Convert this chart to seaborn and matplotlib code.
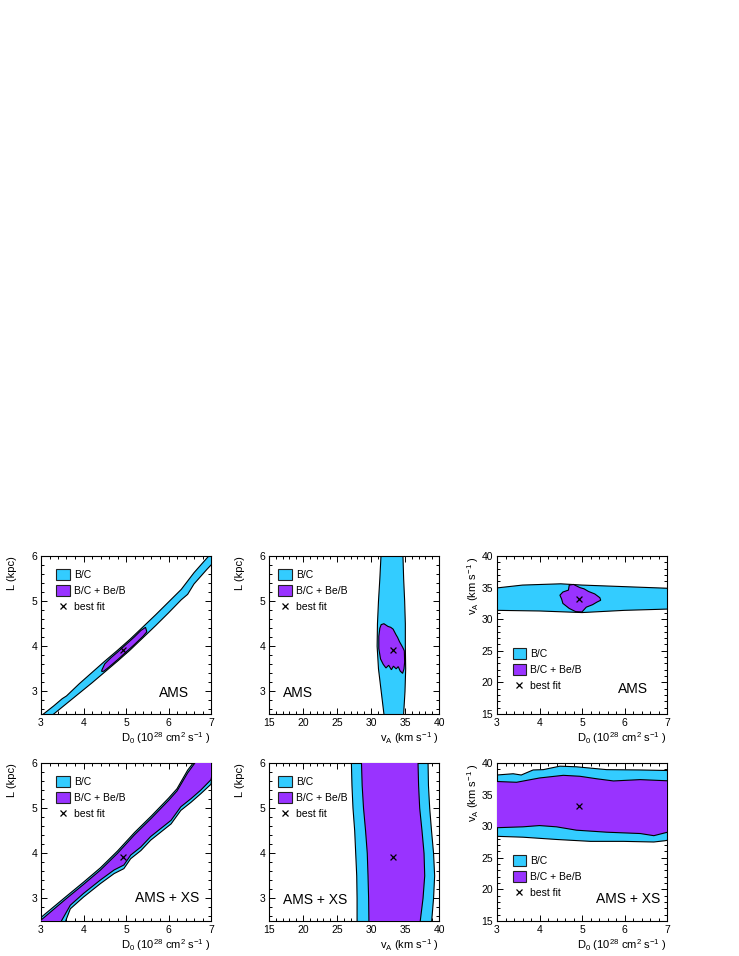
import numpy as np
import matplotlib
matplotlib.use("Agg")
import matplotlib.pyplot as plt
import seaborn as sns
from matplotlib.patches import Patch
from matplotlib.lines import Line2D
from matplotlib.ticker import MultipleLocator

# ---------------- data ----------------
BEST_D0 = 4.92
BEST_L = 3.92
BEST_VA = 33.2

# Panel 1: AMS, D0 vs L
ams_d0L_bc_d0 = [2.95, 3.30, 3.50, 3.60, 3.90, 4.20, 4.50, 4.80, 5.10, 5.40, 5.70, 6.00, 6.30, 6.60, 6.90, 7.10,
                 7.10, 7.00, 6.90, 6.60, 6.45, 6.30, 6.00, 5.70, 5.40, 5.10, 4.80, 4.50, 4.20, 3.90, 3.60, 3.30, 3.00]
ams_d0L_bc_L = [2.42, 2.68, 2.84, 2.90, 3.17, 3.42, 3.67, 3.91, 4.16, 4.43, 4.70, 4.98, 5.26, 5.63, 5.95, 6.15,
                5.90, 5.80, 5.70, 5.38, 5.15, 5.03, 4.74, 4.46, 4.19, 3.92, 3.67, 3.43, 3.19, 2.96, 2.73, 2.50, 2.28]
ams_d0L_be_d0 = [4.43, 4.50, 4.65, 4.80, 5.00, 5.20, 5.35, 5.46, 5.49, 5.40, 5.20, 5.00, 4.80, 4.60, 4.48, 4.43]
ams_d0L_be_L = [3.47, 3.61, 3.75, 3.87, 4.04, 4.21, 4.35, 4.42, 4.32, 4.22, 4.04, 3.87, 3.70, 3.54, 3.45, 3.44]

# Panel 2: AMS, vA vs L
ams_vaL_bc_va = [31.5, 31.3, 31.1, 30.95, 30.9, 31.1, 31.5, 31.9, 31.95,
                 34.8, 34.8, 35.0, 35.1, 35.05, 35.05, 34.95, 34.8, 34.7, 34.7]
ams_vaL_bc_L = [6.1, 5.5, 5.0, 4.5, 4.0, 3.5, 3.0, 2.5, 2.4,
                2.4, 2.5, 3.0, 3.5, 4.0, 4.5, 5.0, 5.5, 6.0, 6.1]
ams_vaL_be_va = [31.5, 31.9, 32.5, 32.9, 33.25, 33.7, 33.9, 34.2, 34.65, 34.9, 34.95, 34.85, 34.65, 34.3, 34.0,
                 33.7, 33.3, 33.0, 32.6, 32.2, 31.8, 31.4, 31.15, 31.15, 31.3]
ams_vaL_be_L = [4.48, 4.50, 4.44, 4.42, 4.38, 4.25, 4.20, 4.10, 3.98, 3.90, 3.65, 3.50, 3.40, 3.45, 3.55,
                3.50, 3.56, 3.48, 3.58, 3.52, 3.60, 3.72, 3.95, 4.22, 4.40]

# Panel 3: AMS, D0 vs vA
ams_d0va_bc_d0 = [2.90, 3.00, 3.60, 4.50, 5.00, 6.00, 7.00, 7.10, 7.10, 7.00, 6.00, 5.00, 4.00, 3.00, 2.90]
ams_d0va_bc_va = [34.9, 34.95, 35.4, 35.6, 35.4, 35.15, 34.9, 34.9, 31.6, 31.6, 31.4, 31.05, 31.3, 31.4, 31.4]
ams_d0va_be_d0 = [4.70, 4.80, 4.95, 5.05, 5.15, 5.30, 5.42, 5.44, 5.35, 5.25, 5.10, 5.00, 4.85, 4.70, 4.55, 4.52, 4.48, 4.55, 4.68]
ams_d0va_be_va = [35.4, 35.5, 35.0, 34.8, 34.4, 34.0, 33.4, 33.0, 32.7, 32.3, 31.9, 31.15, 31.2, 31.7, 32.5, 33.2, 33.8, 34.3, 34.6]

# Panel 4: AMS + XS, D0 vs L
xs_d0L_bc_d0 = [2.90, 3.00, 3.60, 4.00, 4.40, 4.80, 5.20, 5.60, 6.00, 6.20, 6.45, 6.58, 6.70,
                7.10, 7.00, 6.76, 6.53, 6.29, 6.06, 5.82, 5.58, 5.35, 5.11, 4.95, 4.72, 4.40, 4.00, 3.69, 3.58, 3.55]
xs_d0L_bc_L = [2.48, 2.58, 3.05, 3.36, 3.68, 4.05, 4.46, 4.83, 5.22, 5.43, 5.84, 6.00, 6.10,
               6.10, 5.53, 5.32, 5.13, 4.95, 4.65, 4.47, 4.29, 4.06, 3.88, 3.66, 3.55, 3.33, 3.03, 2.77, 2.50, 2.40]
xs_d0L_be_d0 = [2.95, 3.00, 3.60, 4.00, 4.40, 4.80, 5.20, 5.60, 6.00, 6.20, 6.45, 6.62, 6.70,
                7.10, 7.00, 6.76, 6.53, 6.29, 6.06, 5.82, 5.58, 5.35, 5.11, 4.95, 4.72, 4.40, 4.00, 3.69, 3.48, 3.45]
xs_d0L_be_L = [2.45, 2.52, 3.00, 3.31, 3.63, 4.00, 4.41, 4.78, 5.17, 5.38, 5.78, 6.00, 6.10,
               6.10, 5.63, 5.40, 5.21, 5.03, 4.73, 4.55, 4.37, 4.14, 3.96, 3.74, 3.63, 3.41, 3.11, 2.85, 2.50, 2.40]

# Panel 5: AMS + XS, vA vs L
xs_vaL_bc_va = [27.1, 27.2, 27.35, 27.6, 27.75, 27.9, 27.95, 27.95, 38.87, 39.2, 39.36, 39.2, 38.9, 38.63, 38.45, 38.38]
xs_vaL_bc_L = [6.1, 5.5, 5.0, 4.5, 4.0, 3.5, 3.0, 2.4, 2.4, 3.0, 3.5, 4.0, 4.5, 5.0, 5.5, 6.1]
xs_vaL_be_va = [28.58, 28.7, 28.9, 29.2, 29.45, 29.56, 29.65, 29.7, 37.16, 37.65, 37.9, 37.8, 37.5, 37.16, 37.0, 36.9]
xs_vaL_be_L = [6.1, 5.5, 5.0, 4.5, 4.0, 3.5, 3.0, 2.4, 2.4, 3.0, 3.5, 4.0, 4.5, 5.0, 5.5, 6.1]

# Panel 6: AMS + XS, D0 vs vA
xs_d0va_bc_d0 = [2.90, 3.38, 3.57, 3.85, 4.09, 4.48, 4.87, 5.58, 6.37, 7.10,
                 7.10, 6.95, 6.69, 5.98, 5.20, 4.40, 3.61, 2.90]
xs_d0va_bc_va = [38.05, 38.3, 38.1, 38.9, 38.95, 39.5, 39.4, 38.95, 38.9, 38.8,
                 27.9, 27.7, 27.5, 27.6, 27.6, 27.9, 28.26, 28.42]
xs_d0va_be_d0 = [2.90, 3.46, 4.00, 4.56, 4.95, 5.35, 5.74, 6.37, 7.10,
                 7.10, 6.69, 6.37, 5.58, 4.87, 4.40, 4.00, 3.61, 2.90]
xs_d0va_be_va = [37.1, 36.95, 37.63, 38.05, 37.9, 37.5, 37.16, 37.37, 37.16,
                 29.2, 28.5, 28.84, 29.05, 29.37, 29.9, 30.1, 29.9, 29.74]

legend_labels = ["B/C", "B/C + Be/B", "best fit"]
D0_LABEL = r"D$_{0}$ (10$^{28}$ cm$^{2}$ s$^{-1}$ )"
L_LABEL = "L (kpc)"
VA_LABEL = r"v$_{\rm A}$ (km s$^{-1}$ )"

# ---------------- style ----------------
BLUE = "#33ccff"
PURPLE = "#9933ff"

sns.set_style("ticks")
plt.rcParams['font.family'] = ['Liberation Sans', 'DejaVu Sans']
plt.rcParams['mathtext.fontset'] = 'custom'
plt.rcParams['mathtext.rm'] = 'Liberation Sans'
plt.rcParams['mathtext.it'] = 'Liberation Sans:italic'
plt.rcParams['mathtext.bf'] = 'Liberation Sans:bold'
plt.rcParams['text.color'] = 'black'
plt.rcParams['axes.labelcolor'] = 'black'
plt.rcParams['xtick.color'] = 'black'
plt.rcParams['ytick.color'] = 'black'

W, H = 739, 956
fig = plt.figure(figsize=(W / 100, H / 100), dpi=100)

lefts = [41, 269, 497]
tops = [556, 763]
AW, AH = 170, 158


def make_ax(col, row):
    l = lefts[col]
    t = tops[row]
    return fig.add_axes([l / W, 1 - (t + AH) / H, AW / W, AH / H])


def style_axis(ax, kind_x, kind_y):
    ax.tick_params(which='both', direction='in', top=True, right=True,
                   labelsize=7.5, pad=2.8, width=0.7, colors='black')
    ax.tick_params(which='major', length=4)
    ax.tick_params(which='minor', length=2)
    for s in ax.spines.values():
        s.set_linewidth(0.8)
        s.set_color('black')
    if kind_x == 'D0':
        ax.set_xlim(3, 7)
        ax.xaxis.set_major_locator(MultipleLocator(1))
        ax.xaxis.set_minor_locator(MultipleLocator(0.2))
        ax.set_xlabel(D0_LABEL, fontsize=8, loc='right')
    else:
        ax.set_xlim(15, 40)
        ax.xaxis.set_major_locator(MultipleLocator(5))
        ax.xaxis.set_minor_locator(MultipleLocator(1))
        ax.set_xlabel(VA_LABEL, fontsize=8, loc='right')
    ax.xaxis.set_label_coords(1.0, -0.105)
    if kind_y == 'L':
        ax.set_ylim(2.5, 6)
        ax.yaxis.set_major_locator(MultipleLocator(1))
        ax.yaxis.set_minor_locator(MultipleLocator(0.2))
        ax.set_ylabel(L_LABEL, fontsize=8, loc='top')
        ax.yaxis.set_label_coords(-0.14, 1.0)
    else:
        ax.set_ylim(15, 40)
        ax.yaxis.set_major_locator(MultipleLocator(5))
        ax.yaxis.set_minor_locator(MultipleLocator(1))
        ax.set_ylabel(VA_LABEL, fontsize=8, loc='top')
        ax.yaxis.set_label_coords(-0.095, 1.0)


def draw(ax, bcx, bcy, bex, bey, bx, by):
    ax.fill(bcx, bcy, facecolor=BLUE, edgecolor='black', lw=0.8, zorder=2)
    ax.fill(bex, bey, facecolor=PURPLE, edgecolor='black', lw=0.8, zorder=3)
    sns.scatterplot(x=[bx], y=[by], marker='x', color='black', s=18,
                    linewidth=0.9, ax=ax, legend=False, zorder=4)


def add_legend(ax, x, y):
    handles = [Patch(facecolor=BLUE, edgecolor='#222222', lw=0.8),
               Patch(facecolor=PURPLE, edgecolor='#222222', lw=0.8),
               Line2D([], [], marker='x', ls='none', color='black', markersize=4, mew=0.9)]
    ax.legend(handles, legend_labels, loc='upper left', bbox_to_anchor=(x, y),
              frameon=False, fontsize=7.5, handlelength=1.3, handleheight=1.25,
              handletextpad=0.4, labelspacing=0.5, borderpad=0, borderaxespad=0)


panels = [
    (0, 0, 'D0', 'L', ams_d0L_bc_d0, ams_d0L_bc_L, ams_d0L_be_d0, ams_d0L_be_L, BEST_D0, BEST_L,
     (0.089, 0.918), "AMS", (0.87, 0.108), 'right'),
    (1, 0, 'vA', 'L', ams_vaL_bc_va, ams_vaL_bc_L, ams_vaL_be_va, ams_vaL_be_L, BEST_VA, BEST_L,
     (0.053, 0.918), "AMS", (0.082, 0.108), 'left'),
    (2, 0, 'D0', 'vA', ams_d0va_bc_d0, ams_d0va_bc_va, ams_d0va_be_d0, ams_d0va_be_va, BEST_D0, BEST_VA,
     (0.092, 0.418), "AMS", (0.888, 0.133), 'right'),
    (0, 1, 'D0', 'L', xs_d0L_bc_d0, xs_d0L_bc_L, xs_d0L_be_d0, xs_d0L_be_L, BEST_D0, BEST_L,
     (0.089, 0.918), "AMS + XS", (0.93, 0.12), 'right'),
    (1, 1, 'vA', 'L', xs_vaL_bc_va, xs_vaL_bc_L, xs_vaL_be_va, xs_vaL_be_L, BEST_VA, BEST_L,
     (0.053, 0.918), "AMS + XS", (0.082, 0.107), 'left'),
    (2, 1, 'D0', 'vA', xs_d0va_bc_d0, xs_d0va_bc_va, xs_d0va_be_d0, xs_d0va_be_va, BEST_D0, BEST_VA,
     (0.092, 0.42), "AMS + XS", (0.96, 0.113), 'right'),
]

for (col, row, kx, ky, bcx, bcy, bex, bey, bx, by, legpos, tag, tagpos, tagha) in panels:
    ax = make_ax(col, row)
    draw(ax, bcx, bcy, bex, bey, bx, by)
    style_axis(ax, kx, ky)
    add_legend(ax, *legpos)
    ax.text(tagpos[0], tagpos[1], tag, transform=ax.transAxes, ha=tagha,
            va='baseline', fontsize=10, color='black', zorder=5)

fig.savefig("out.png", dpi=100)
